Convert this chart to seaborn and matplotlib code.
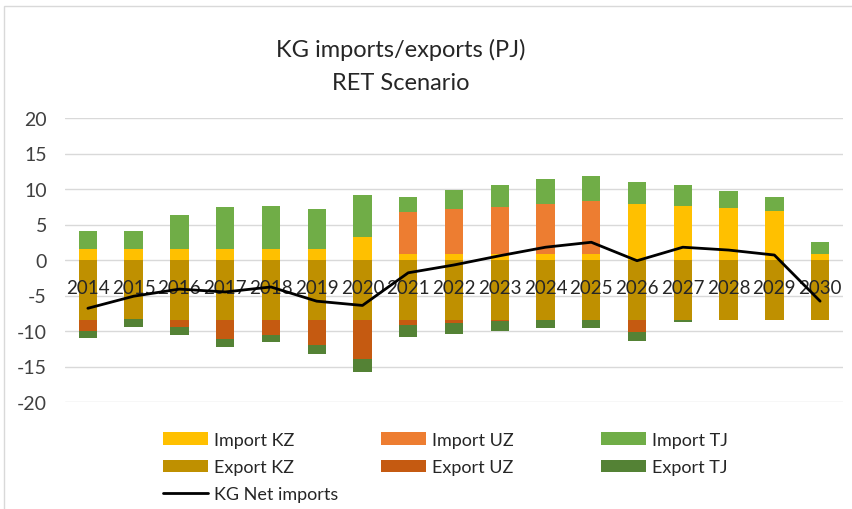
import numpy as np
import matplotlib
matplotlib.use("Agg")
import matplotlib.pyplot as plt
import seaborn as sns
from matplotlib.patches import Patch, Rectangle
from matplotlib.lines import Line2D

years = [str(y) for y in range(2014, 2031)]
import_kz = [1.5, 1.5, 1.5, 1.5, 1.5, 1.5, 3.2, 0.9, 0.9, 0.9, 0.9, 0.9, 7.9, 7.65, 7.3, 6.85, 0.9]
import_uz = [0, 0, 0, 0, 0, 0, 0, 5.8, 6.3, 6.55, 7.0, 7.35, 0, 0, 0, 0, 0]
import_tj = [2.6, 2.6, 4.9, 5.95, 6.15, 5.7, 6.0, 2.15, 2.6, 3.1, 3.55, 3.65, 3.05, 2.9, 2.45, 2.0, 1.7]
export_kz = [-8.4, -8.3, -8.4, -8.4, -8.4, -8.4, -8.4, -8.4, -8.4, -8.4, -8.4, -8.4, -8.4, -8.4, -8.4, -8.4, -8.4]
export_uz = [-1.55, 0, -1.05, -2.7, -2.1, -3.6, -5.5, -0.8, -0.5, -0.2, 0, 0, -1.8, 0, 0, 0, 0]
export_tj = [-1.0, -1.2, -1.05, -1.1, -1.1, -1.2, -1.85, -1.65, -1.5, -1.45, -1.2, -1.2, -1.2, -0.4, 0, 0, 0]
net_imports = [-6.8, -5.1, -4.1, -4.5, -3.8, -5.8, -6.4, -1.8, -0.7, 0.6, 1.8, 2.5, -0.1, 1.8, 1.4, 0.7, -5.8]

labels = ["Import KZ", "Import UZ", "Import TJ", "Export KZ", "Export UZ", "Export TJ", "KG Net imports"]
colors = ["#FFC000", "#ED7D31", "#70AD47", "#BF9000", "#C55A11", "#548235", "#000000"]

sns.set_theme(style="white")
plt.rcParams['font.family'] = ['Lato', 'DejaVu Sans']
plt.rcParams['axes.unicode_minus'] = False

fig = plt.figure(figsize=(8.53, 5.10), dpi=100)
ax = fig.add_axes([65/853, 1-403/510, (843-65)/853, (403-119)/510])

def stack(series_list, cols):
    bottom = np.zeros(len(years))
    for vals, c in zip(series_list, cols):
        v = np.array(vals, dtype=float)
        sns.barplot(x=years, y=v, bottom=bottom, color=c, saturation=1,
                    width=0.4, ax=ax, edgecolor="none", linewidth=0)
        bottom = bottom + v

stack([import_kz, import_uz, import_tj], colors[0:3])
stack([export_kz, export_uz, export_tj], colors[3:6])

sns.lineplot(x=np.arange(len(years)), y=np.array(net_imports), color="black",
             linewidth=2, ax=ax)

ax.set_xlim(-0.5, len(years) - 0.5)
ax.set_ylim(-20, 20)
ax.set_yticks(np.arange(-20, 21, 5))
ax.set_yticklabels([str(t) for t in range(-20, 21, 5)])
ax.yaxis.grid(True, color="#D9D9D9", linewidth=1)
ax.set_axisbelow(True)
ax.xaxis.set_zorder(1.5)
for s in ax.spines.values():
    s.set_visible(False)
ax.spines['bottom'].set_position(('data', 0))
ax.set_xlabel("")
ax.set_ylabel("")
ax.tick_params(axis='x', length=0, pad=14, labelsize=13.5, labelcolor="#262626")
ax.tick_params(axis='y', length=0, pad=13, labelsize=14, labelcolor="#404040")

fig.text(401/853, 1-50/510, "KG imports/exports (PJ)", ha="center", va="center",
         fontsize=17, color="#262626")
fig.text(401/853, 1-83/510, "RET Scenario", ha="center", va="center",
         fontsize=17, color="#262626")

def handle(i):
    if i == 6:
        return Line2D([0], [0], color="black", linewidth=2)
    return Patch(facecolor=colors[i], edgecolor="none")

cols_idx = [[0, 3, 6], [1, 4], [2, 5]]
xs = [163/853, 381/853, 601/853]
for idx, x0 in zip(cols_idx, xs):
    leg = fig.legend([handle(i) for i in idx], [labels[i] for i in idx],
                     loc="upper left", bbox_to_anchor=(x0, 1-433/510),
                     frameon=False, fontsize=13, handlelength=2.5,
                     handleheight=0.7, handletextpad=0.3, labelspacing=0.62,
                     borderpad=0, borderaxespad=0)
    for t in leg.get_texts():
        t.set_color("#262626")

fig.patches.append(Rectangle((4/853, -0.05), 1.0, 1.05 - 7/510, transform=fig.transFigure,
                             fill=False, edgecolor="#D9D9D9", linewidth=1))

fig.savefig("out.png", dpi=100, facecolor="white")
